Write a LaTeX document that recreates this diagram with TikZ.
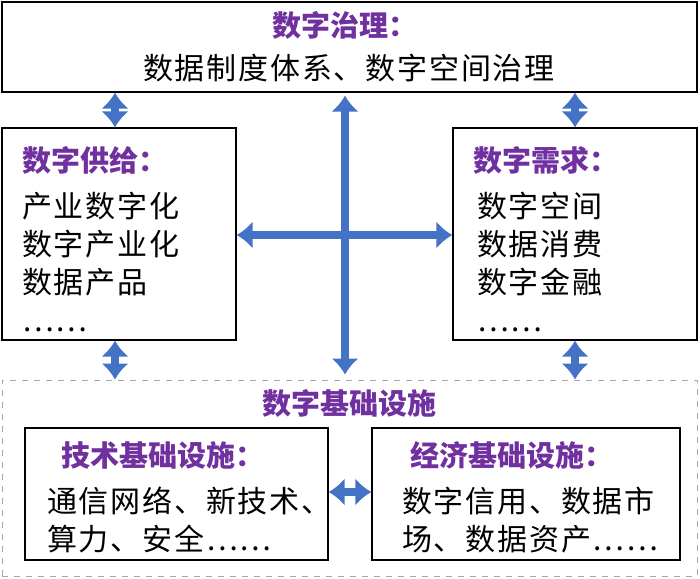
\documentclass[tikz,border=0pt]{standalone}
\usepackage{fontspec}
\setmainfont{Noto Sans CJK SC}
\usetikzlibrary{arrows.meta}
\definecolor{ttl}{RGB}{112,48,160}
\definecolor{arr}{RGB}{68,114,196}
\tikzset{
    box/.style={draw=black, line width=0.6pt, inner sep=0pt},
    dbox/.style={draw=gray!70, dashed, line width=0.5pt, inner sep=0pt},
    ttl/.style={text=ttl, font=\fontsize{14.5}{17}\selectfont\bfseries},
    txt/.style={font=\fontsize{15}{19}\selectfont\addfontfeatures{LetterSpace=6}, align=left},
    a1/.style={draw=arr, line width=4pt, {Latex[length=8pt,width=14pt]}-{Latex[length=8pt,width=14pt]}}
}

\begin{document}
\begin{tikzpicture}[x=0.5pt, y=-0.5pt]
\useasboundingbox (0,0) rectangle (700,578);

% Boxes
\node[box, minimum width=695*0.5pt, minimum height=90*0.5pt] (GOV) at (349.5,47) {};
\node[box, minimum width=234*0.5pt, minimum height=212*0.5pt] (SUP) at (119,234) {};
\node[box, minimum width=244*0.5pt, minimum height=212*0.5pt] (DEM) at (575,234) {};
\node[dbox, minimum width=695*0.5pt, minimum height=196*0.5pt] (INF) at (349.5,478) {};
\node[box, minimum width=303*0.5pt, minimum height=132*0.5pt] (TEC) at (176.5,494) {};
\node[box, minimum width=308*0.5pt, minimum height=132*0.5pt] (ECO) at (526,494) {};

% Texts
\node[ttl] (GOVt) at (345,25) {数字治理：};
\node[txt] (GOVx) at (349,68) {数据制度体系、数字空间治理};
\node[ttl, anchor=west] (SUPt) at (15,160) {数字供给：};
\node[txt, anchor=north west] (SUPx) at (15,185) {产业数字化\\数字产业化\\数据产品\\……};
\node[ttl, anchor=west] (DEMt) at (466,160) {数字需求：};
\node[txt, anchor=north west] (DEMx) at (470,185) {数字空间\\数据消费\\数字金融\\……};
\node[ttl] (INFt) at (349,403) {数字基础设施};
\node[ttl] (TECt) at (163,455) {技术基础设施：};
\node[txt, anchor=north west] (TECx) at (40,480) {通信网络、新技术、\\算力、安全……};
\node[ttl] (ECOt) at (512,455) {经济基础设施：};
\node[txt, anchor=north west] (ECOx) at (395,480) {数字信用、数据市\\场、数据资产……};

% Arrows
\draw[a1] (GOV.south -| 115,0) -- (SUP.north -| 115,0);
\draw[a1] (GOV.south -| 575,0) -- (DEM.north);
\draw[a1] (SUP.south -| 115,0) -- (INF.north -| 115,0);
\draw[a1] (DEM.south) -- (INF.north -| DEM.south);
\draw[a1] ([yshift=-3*0.5pt]GOV.south -| 345,0) -- ([yshift=5*0.5pt]INF.north -| 345,0);
\draw[a1] (SUP.east |- 0,235) -- (DEM.west |- 0,235);
\draw[a1] (TEC.east |- 0,492) -- (ECO.west |- 0,492);

\end{tikzpicture}
\end{document}
